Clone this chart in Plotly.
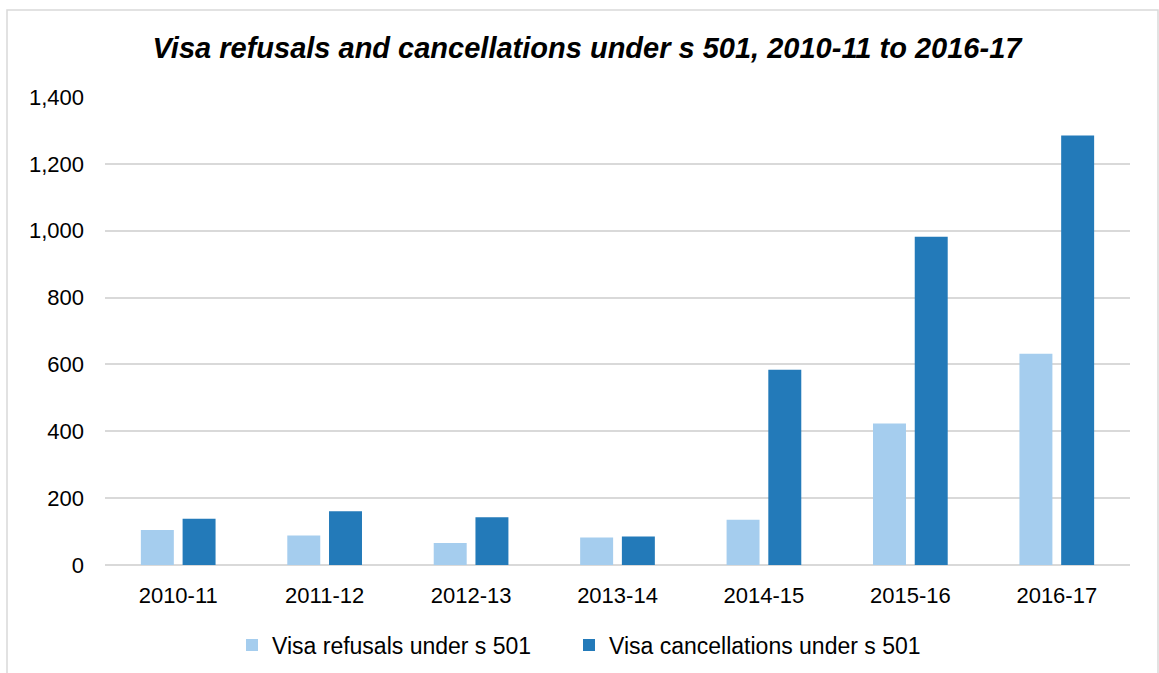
import plotly.graph_objects as go

years = ["2010-11", "2011-12", "2012-13", "2013-14", "2014-15", "2015-16", "2016-17"]
refusals = [105, 88, 66, 82, 135, 423, 632]
cancellations = [138, 161, 143, 85, 584, 982, 1285]
y_ticks = [0, 200, 400, 600, 800, 1000, 1200, 1400]
y_tick_text = ["0", "200", "400", "600", "800", "1,000", "1,200", "1,400"]

FONT = "Liberation Sans, Arial, sans-serif"

fig = go.Figure()
fig.add_trace(go.Bar(x=years, y=refusals, name="Visa refusals under s 501",
                     marker=dict(color="#a5cdee", line=dict(width=0)), legend="legend"))
fig.add_trace(go.Bar(x=years, y=cancellations, name="Visa cancellations under s 501",
                     marker=dict(color="#237ab9", line=dict(width=0)), legend="legend2"))

legend_common = dict(orientation="h", xanchor="left", yanchor="middle",
                     xref="container", yref="container",
                     font=dict(size=23), itemwidth=30, bgcolor="rgba(0,0,0,0)")

fig.update_layout(
    width=1159, height=673,
    paper_bgcolor="white", plot_bgcolor="white",
    margin=dict(l=105, r=29, t=97, b=108),
    barmode="group", bargap=0.43, bargroupgap=0.21,
    font=dict(family=FONT, size=22, color="#000000"),
    title=dict(text="<b><i>Visa refusals and cancellations under s 501, 2010-11 to 2016-17</i></b>",
               x=587/1159, xanchor="center", xref="container",
               y=1-48/673, yanchor="middle", yref="container",
               font=dict(family=FONT, size=29, color="#000000")),
    xaxis=dict(type="category", showline=False, ticks="", tickfont=dict(size=22),
               ticklabelstandoff=15, automargin=False),
    yaxis=dict(range=[0, 1400], tickvals=y_ticks, ticktext=y_tick_text,
               showgrid=True, gridcolor="#d9d9d9", gridwidth=1.5,
               zeroline=True, zerolinecolor="#d9d9d9", zerolinewidth=2,
               ticks="", tickfont=dict(size=22), ticklabelstandoff=20, showline=False,
               automargin=False),
    legend=dict(x=232/1159, y=1-645/673, **legend_common),
    legend2=dict(x=569/1159, y=1-645/673, **legend_common),
    showlegend=True,
    shapes=[dict(type="rect", xref="paper", yref="paper",
                 x0=(7-105)/1025, x1=(1158-105)/1025,
                 y0=-0.5, y1=(565-10)/468,
                 line=dict(color="#d9d9d9", width=1.5), fillcolor="rgba(0,0,0,0)", layer="below")],
)

fig.write_html("out.html", config={"displayModeBar": False},
               post_script="document.body.style.margin='0';")
